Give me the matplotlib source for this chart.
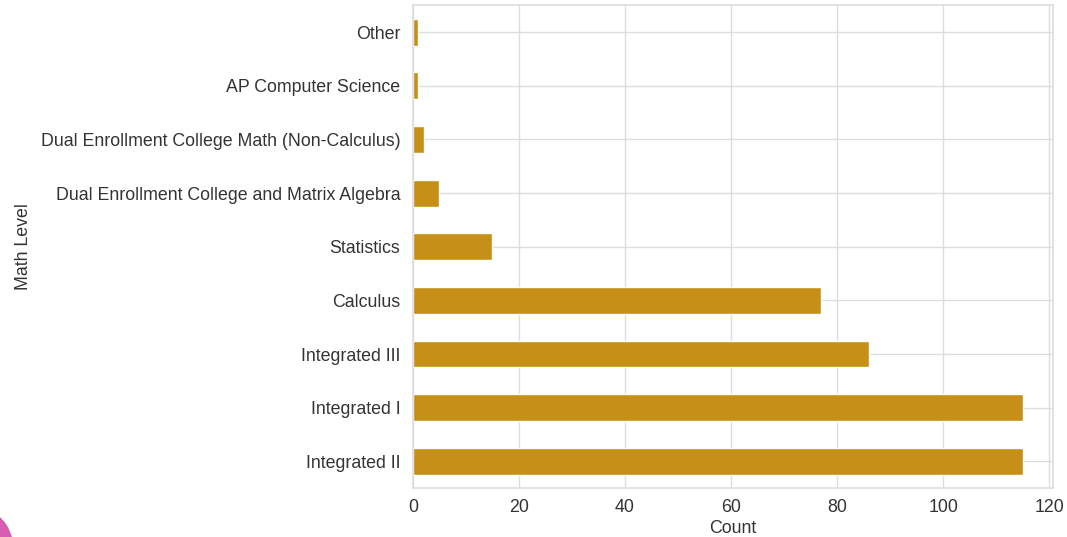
import matplotlib
matplotlib.use("Agg")
import matplotlib.pyplot as plt
import seaborn as sns
from matplotlib.patches import Ellipse

categories = ["Integrated II", "Integrated I", "Integrated III", "Calculus", "Statistics",
              "Dual Enrollment College and Matrix Algebra",
              "Dual Enrollment College Math (Non-Calculus)",
              "AP Computer Science", "Other"]
counts = [115, 115, 86, 77, 15, 5, 2, 1, 1]
xticks = [0, 20, 40, 60, 80, 100, 120]

sns.set_style("whitegrid")
plt.rcParams['font.family'] = ['Liberation Sans', 'DejaVu Sans']

fs = 12.8
fig = plt.figure(figsize=(10.67, 5.37), dpi=100)
ax = fig.add_axes([0.387, 0.091, 0.600, 0.899])
ypos = list(range(len(categories)))
ax.barh(ypos, counts, height=0.5, color="#C68F17")
ax.set_yticks(ypos)
ax.set_yticklabels(categories)
ax.set_ylim(-0.5, len(categories) - 0.5)
ax.set_xlim(0, 120.75)
ax.set_xticks(xticks)
ax.tick_params(axis='y', labelsize=fs, pad=9, colors="#333333", length=0)
ax.tick_params(axis='x', labelsize=fs, pad=8, colors="#333333", length=0)
ax.set_xlabel("Count", fontsize=fs, color="#333333", labelpad=3)
ax.set_ylabel("Math Level", fontsize=fs, color="#333333", labelpad=6)
ax.grid(True, color="#DDDDDD", linewidth=1.0)
for s in ax.spines.values():
    s.set_color("#DDDDDD")
    s.set_linewidth(1.2)

fig.add_artist(Ellipse((-0.012, -0.035), 0.05, 0.16, transform=fig.transFigure,
                       color="#D65DB1", zorder=10, clip_on=False))
fig.savefig("out.png", dpi=100)
